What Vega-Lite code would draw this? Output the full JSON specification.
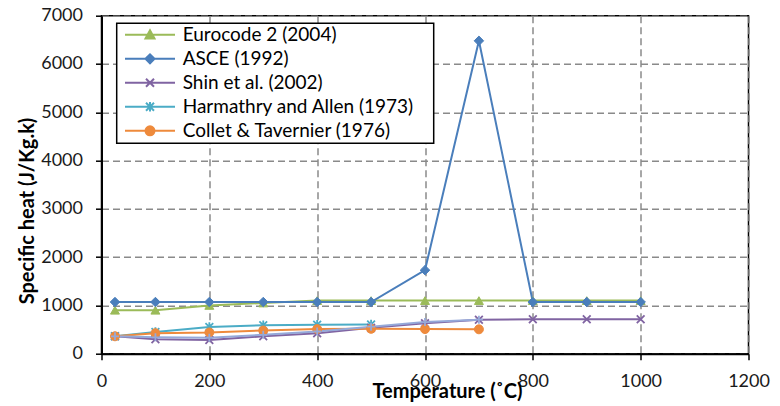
{
  "$schema": "https://vega.github.io/schema/vega-lite/v6.json",
  "width": 647,
  "height": 338,
  "autosize": {"type": "none"},
  "padding": {"left": 101.5, "top": 15.7, "right": 31.5, "bottom": 52.3},
  "background": "white",
  "config": {
    "font": "Lato",
    "view": {"stroke": "black", "strokeWidth": 1.5},
    "axis": {
      "grid": true,
      "gridColor": "#8a8a8a",
      "gridDash": [7, 4],
      "gridWidth": 1.5,
      "domainColor": "black",
      "domainWidth": 2,
      "tickColor": "black",
      "tickWidth": 1.5,
      "tickSize": 6,
      "labelFont": "Lato",
      "labelFontSize": 18,
      "labelColor": "#1a1a1a",
      "labelPadding": 13,
      "labelFlush": false,
      "labelOverlap": false,
      "format": "d",
      "titleFont": "Lato",
      "titleFontSize": 20,
      "titleFontWeight": "bold",
      "titleColor": "#000000"
    },
    "legend": {
      "padding": 2,
      "fillColor": "white",
      "strokeColor": "black",
      "strokeWidth": 1.5,
      "symbolSize": 100,
      "symbolStrokeWidth": 2,
      "symbolOpacity": 1,
      "labelOffset": 45,
      "labelFont": "Lato",
      "labelFontSize": 19,
      "labelColor": "#000000",
      "labelLimit": 400,
      "rowPadding": 4
    }
  },
  "data": {
    "values": [
      {"series": "Eurocode 2 (2004)", "t": 25, "cp": 900},
      {"series": "Eurocode 2 (2004)", "t": 100, "cp": 900},
      {"series": "Eurocode 2 (2004)", "t": 200, "cp": 1000},
      {"series": "Eurocode 2 (2004)", "t": 300, "cp": 1050},
      {"series": "Eurocode 2 (2004)", "t": 400, "cp": 1100},
      {"series": "Eurocode 2 (2004)", "t": 500, "cp": 1100},
      {"series": "Eurocode 2 (2004)", "t": 600, "cp": 1100},
      {"series": "Eurocode 2 (2004)", "t": 700, "cp": 1100},
      {"series": "Eurocode 2 (2004)", "t": 800, "cp": 1100},
      {"series": "Eurocode 2 (2004)", "t": 900, "cp": 1100},
      {"series": "Eurocode 2 (2004)", "t": 1000, "cp": 1100},
      {"series": "ASCE (1992)", "t": 25, "cp": 1070},
      {"series": "ASCE (1992)", "t": 100, "cp": 1070},
      {"series": "ASCE (1992)", "t": 200, "cp": 1070},
      {"series": "ASCE (1992)", "t": 300, "cp": 1070},
      {"series": "ASCE (1992)", "t": 400, "cp": 1070},
      {"series": "ASCE (1992)", "t": 500, "cp": 1070},
      {"series": "ASCE (1992)", "t": 600, "cp": 1730},
      {"series": "ASCE (1992)", "t": 700, "cp": 6480},
      {"series": "ASCE (1992)", "t": 800, "cp": 1070},
      {"series": "ASCE (1992)", "t": 900, "cp": 1070},
      {"series": "ASCE (1992)", "t": 1000, "cp": 1070},
      {"series": "Shin et al. (2002)", "t": 25, "cp": 360},
      {"series": "Shin et al. (2002)", "t": 100, "cp": 300},
      {"series": "Shin et al. (2002)", "t": 200, "cp": 285},
      {"series": "Shin et al. (2002)", "t": 300, "cp": 360},
      {"series": "Shin et al. (2002)", "t": 400, "cp": 425},
      {"series": "Shin et al. (2002)", "t": 500, "cp": 535},
      {"series": "Shin et al. (2002)", "t": 600, "cp": 630},
      {"series": "Shin et al. (2002)", "t": 700, "cp": 705},
      {"series": "Shin et al. (2002)", "t": 800, "cp": 715},
      {"series": "Shin et al. (2002)", "t": 900, "cp": 715},
      {"series": "Shin et al. (2002)", "t": 1000, "cp": 715},
      {"series": "Harmathry and Allen (1973)", "t": 25, "cp": 360},
      {"series": "Harmathry and Allen (1973)", "t": 100, "cp": 450},
      {"series": "Harmathry and Allen (1973)", "t": 200, "cp": 555},
      {"series": "Harmathry and Allen (1973)", "t": 300, "cp": 590},
      {"series": "Harmathry and Allen (1973)", "t": 400, "cp": 600},
      {"series": "Harmathry and Allen (1973)", "t": 500, "cp": 605},
      {"series": "Collet & Tavernier (1976)", "t": 25, "cp": 360},
      {"series": "Collet & Tavernier (1976)", "t": 100, "cp": 425},
      {"series": "Collet & Tavernier (1976)", "t": 200, "cp": 440},
      {"series": "Collet & Tavernier (1976)", "t": 300, "cp": 480},
      {"series": "Collet & Tavernier (1976)", "t": 400, "cp": 510},
      {"series": "Collet & Tavernier (1976)", "t": 500, "cp": 515},
      {"series": "Collet & Tavernier (1976)", "t": 600, "cp": 510},
      {"series": "Collet & Tavernier (1976)", "t": 700, "cp": 505},
      {"series": "Series 6", "t": 25, "cp": 360},
      {"series": "Series 6", "t": 100, "cp": 340},
      {"series": "Series 6", "t": 200, "cp": 330},
      {"series": "Series 6", "t": 300, "cp": 390},
      {"series": "Series 6", "t": 400, "cp": 460},
      {"series": "Series 6", "t": 500, "cp": 560},
      {"series": "Series 6", "t": 600, "cp": 655},
      {"series": "Series 6", "t": 700, "cp": 705}
    ]
  },
  "encoding": {
    "x": {
      "field": "t",
      "type": "quantitative",
      "scale": {"domain": [0, 1200], "nice": false},
      "axis": {
        "values": [0, 200, 400, 600, 800, 1000, 1200],
        "title": "Temperature (˚C)",
        "titleX": 345.5,
        "titleY": 44,
        "titleAlign": "center",
        "titleBaseline": "alphabetic"
      }
    },
    "y": {
      "field": "cp",
      "type": "quantitative",
      "scale": {"domain": [0, 7000], "nice": false},
      "axis": {
        "values": [0, 1000, 2000, 3000, 4000, 5000, 6000, 7000],
        "title": "Specific heat (J/Kg.k)",
        "titleX": -68.5,
        "titleY": 194.8,
        "titleAngle": 270,
        "titleAlign": "center",
        "titleBaseline": "alphabetic"
      }
    }
  },
  "layer": [
    {
      "transform": [{"filter": "datum.series === 'Eurocode 2 (2004)'"}],
      "mark": {"type": "line", "strokeWidth": 2, "color": "#9BBB59"},
      "encoding": {}
    },
    {
      "transform": [{"filter": "datum.series === 'ASCE (1992)'"}],
      "mark": {"type": "line", "strokeWidth": 2, "color": "#4A7EBB"},
      "encoding": {}
    },
    {
      "transform": [{"filter": "datum.series === 'Shin et al. (2002)'"}],
      "mark": {"type": "line", "strokeWidth": 2, "color": "#8064A2"},
      "encoding": {}
    },
    {
      "transform": [{"filter": "datum.series === 'Harmathry and Allen (1973)'"}],
      "mark": {"type": "line", "strokeWidth": 2, "color": "#4BACC6"},
      "encoding": {}
    },
    {
      "transform": [{"filter": "datum.series === 'Collet & Tavernier (1976)'"}],
      "mark": {"type": "line", "strokeWidth": 2, "color": "#EE8A3C"},
      "encoding": {}
    },
    {
      "transform": [{"filter": "datum.series === 'Series 6'"}],
      "mark": {"type": "line", "strokeWidth": 2, "color": "#95A9D9"},
      "encoding": {}
    },
    {
      "transform": [{"filter": "datum.series === 'Eurocode 2 (2004)'"}],
      "mark": {"type": "point", "shape": "triangle-up", "filled": true, "size": 80, "opacity": 1, "fill": "#9BBB59", "stroke": "#9BBB59", "strokeWidth": 1}
    },
    {
      "transform": [{"filter": "datum.series === 'ASCE (1992)'"}],
      "mark": {"type": "point", "shape": "diamond", "filled": true, "size": 90, "opacity": 1, "fill": "#4A7EBB", "stroke": "#4A7EBB", "strokeWidth": 1}
    },
    {
      "transform": [{"filter": "datum.series === 'Shin et al. (2002)'"}],
      "mark": {"type": "point", "shape": "M-1,-1L1,1M-1,1L1,-1", "filled": false, "size": 60, "opacity": 1, "stroke": "#8064A2", "strokeWidth": 1.8}
    },
    {
      "transform": [{"filter": "datum.series === 'Harmathry and Allen (1973)'"}],
      "mark": {"type": "point", "shape": "M-1,-1L1,1M-1,1L1,-1M0,-1.2V1.2", "filled": false, "size": 60, "opacity": 1, "stroke": "#4BACC6", "strokeWidth": 1.8}
    },
    {
      "transform": [{"filter": "datum.series === 'Collet & Tavernier (1976)'"}],
      "mark": {"type": "point", "shape": "circle", "filled": true, "size": 80, "opacity": 1, "fill": "#EE8A3C", "stroke": "#EE8A3C", "strokeWidth": 1}
    },
    {
      "transform": [{"filter": "datum.series === 'Series 6'"}],
      "mark": {"type": "point", "shape": "M-1,0H1M0,-1V1", "filled": false, "size": 64, "opacity": 1, "stroke": "#95A9D9", "strokeWidth": 1.8}
    },
    {
      "transform": [{"filter": "datum.series !== 'Series 6'"}],
      "mark": {"type": "point", "filled": true, "opacity": 0},
      "encoding": {
        "color": {
          "field": "series",
          "type": "nominal",
          "scale": {
            "domain": ["Eurocode 2 (2004)", "ASCE (1992)", "Shin et al. (2002)", "Harmathry and Allen (1973)", "Collet & Tavernier (1976)"],
            "range": ["#9BBB59", "#4A7EBB", "#8064A2", "#4BACC6", "#EE8A3C"]
          },
          "legend": {"title": null, "orient": "none", "legendX": 15.2, "legendY": 7.6}
        },
        "stroke": {
          "field": "series",
          "type": "nominal",
          "scale": {
            "domain": ["Eurocode 2 (2004)", "ASCE (1992)", "Shin et al. (2002)", "Harmathry and Allen (1973)", "Collet & Tavernier (1976)"],
            "range": ["#9BBB59", "#4A7EBB", "#8064A2", "#4BACC6", "#EE8A3C"]
          },
          "legend": {"title": null, "orient": "none", "legendX": 15.2, "legendY": 7.6}
        },
        "shape": {
          "field": "series",
          "type": "nominal",
          "scale": {
            "domain": ["Eurocode 2 (2004)", "ASCE (1992)", "Shin et al. (2002)", "Harmathry and Allen (1973)", "Collet & Tavernier (1976)"],
            "range": [
              "M-0.64,0H9.36M3.46,0.75L4.36,-0.9L5.26,0.75ZM59.8,0",
              "M-0.64,0H9.36M3.46,0L4.36,-0.9L5.26,0L4.36,0.9ZM59.8,0",
              "M-0.64,0H9.36M3.56,-0.8L5.16,0.8M3.56,0.8L5.16,-0.8M59.8,0",
              "M-0.64,0H9.36M3.56,-0.8L5.16,0.8M3.56,0.8L5.16,-0.8M4.36,-0.95V0.95M59.8,0",
              "M-0.64,0H9.36M3.46,0A0.9,0.9,0,1,0,5.26,0A0.9,0.9,0,1,0,3.46,0ZM59.8,0"
            ]
          },
          "legend": {"title": null, "orient": "none", "legendX": 15.2, "legendY": 7.6}
        }
      }
    }
  ]
}
